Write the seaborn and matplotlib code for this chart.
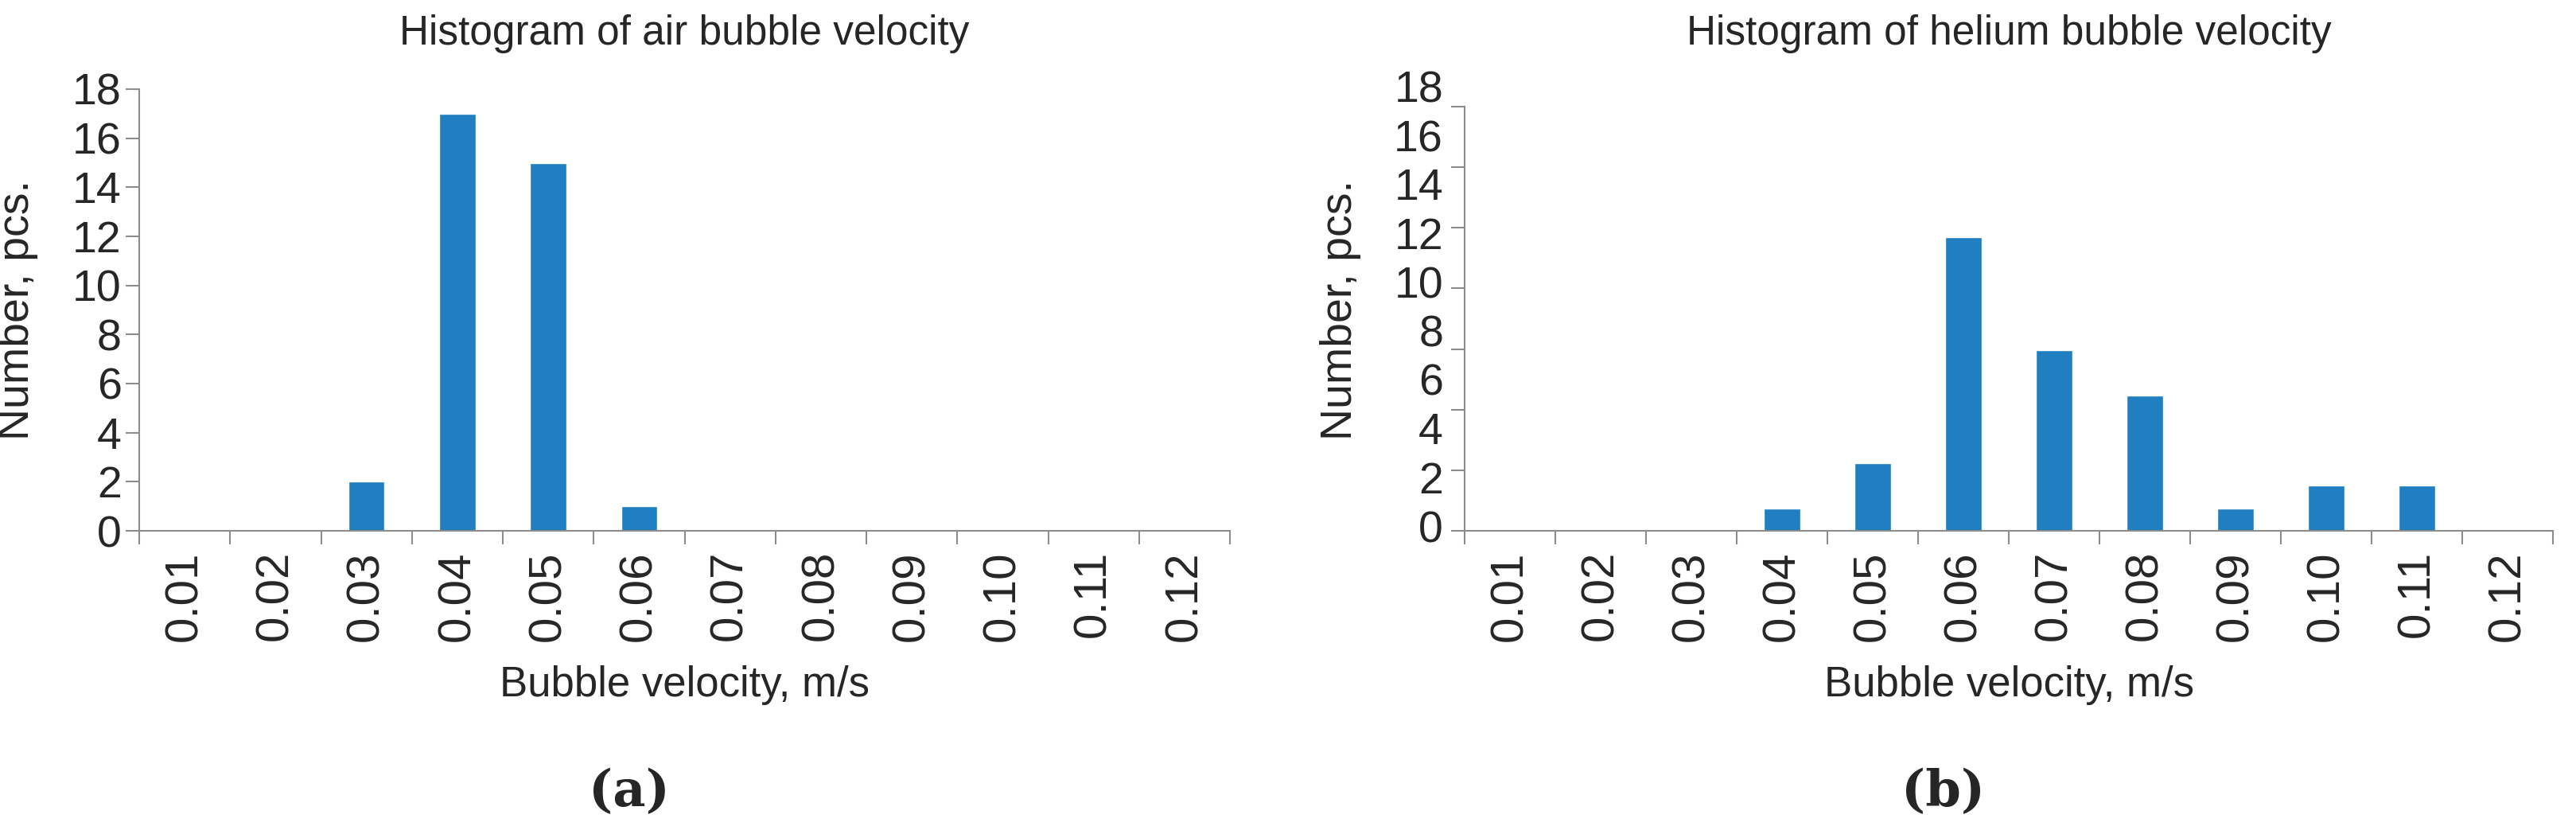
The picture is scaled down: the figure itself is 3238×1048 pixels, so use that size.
import matplotlib
matplotlib.use("Agg")
import matplotlib.pyplot as plt
import seaborn as sns
import numpy as np
import pandas as pd

categories = ["0.01","0.02","0.03","0.04","0.05","0.06","0.07","0.08","0.09","0.10","0.11","0.12"]
air_counts = [0, 0, 2, 17, 15, 1, 0, 0, 0, 0, 0, 0]
helium_counts = [0, 0, 0, 1, 3, 13, 8, 6, 1, 2, 2, 0]
ylabels = ["0","2","4","6","8","10","12","14","16","18"]

sns.set_theme(style="white")
plt.rcParams['font.family'] = ['Liberation Sans', 'DejaVu Sans']

W, H = 3238, 1048
fig = plt.figure(figsize=(W / 100, H / 100), dpi=100)
axL = fig.add_axes([175 / W, 1 - 667 / H, 1371 / W, 555 / H])
axR = fig.add_axes([1841 / W, 1 - 667 / H, 1368 / W, 555 / H])
col = "#1f7fc0"
spine_c = "#8c8c8c"

def style(ax, title):
    for s in ["top", "right"]:
        ax.spines[s].set_visible(False)
    for s in ["left", "bottom"]:
        ax.spines[s].set_color(spine_c)
        ax.spines[s].set_linewidth(1.5)
    ax.set_xlim(-0.5, len(categories) - 0.5)
    ax.set_xticks(np.arange(-0.5, len(categories), 1.0), minor=False)
    ax.set_xticklabels([])
    ax.set_xticks(np.arange(len(categories)), minor=True)
    ax.set_xticklabels(categories, minor=True, rotation=90, fontsize=42)
    ax.tick_params(axis="x", which="major", length=12, width=1.5, color=spine_c, direction="out", bottom=True)
    ax.tick_params(axis="x", which="minor", length=0, pad=18)
    ax.tick_params(axis="y", length=12, width=1.5, color=spine_c, direction="out", left=True, labelsize=40, pad=4)
    ax.set_xlabel("Bubble velocity, m/s", fontsize=38, labelpad=22)
    ax.set_ylabel("Number, pcs.", fontsize=40, labelpad=6)
    ax.set_title(title, fontsize=37, pad=40)

dfL = pd.DataFrame({"v": categories, "n": air_counts})
sns.barplot(data=dfL, x="v", y="n", color=col, width=0.4, saturation=1, ax=axL)
style(axL, "Histogram of air bubble velocity")
axL.set_ylim(0, 18)
axL.set_yticks(range(0, 19, 2))
axL.set_yticklabels(ylabels)

# right panel: tick marks and labels are misaligned in the original
T = 18.8
dfR = pd.DataFrame({"v": categories, "n": helium_counts})
sns.barplot(data=dfR, x="v", y="n", color=col, width=0.4, saturation=1, ax=axR)
style(axR, "Histogram of helium bubble velocity")
top = T * 555 / 533
axR.set_ylim(0, top)
axR.spines["left"].set_bounds(0, T)
axR.set_yticks(np.linspace(0, T, 8))
axR.set_yticklabels([])
pos = np.linspace(0, top * 0.995, len(ylabels))
for p, lab in zip(pos, ylabels):
    axR.text(-27 / 1368, p, lab, transform=axR.get_yaxis_transform(), ha="right", va="center", fontsize=40)
axR.yaxis.set_label_coords(-130 / 1368, 0.5)
axL.yaxis.set_label_coords(-127 / 1371, 0.5)

fig.text(791 / W, 0.05, "(a)", fontsize=46, fontweight="bold", family="DejaVu Serif", ha="center", va="center")
fig.text(2443 / W, 0.05, "(b)", fontsize=46, fontweight="bold", family="DejaVu Serif", ha="center", va="center")

fig.savefig("out.png", dpi=100)
